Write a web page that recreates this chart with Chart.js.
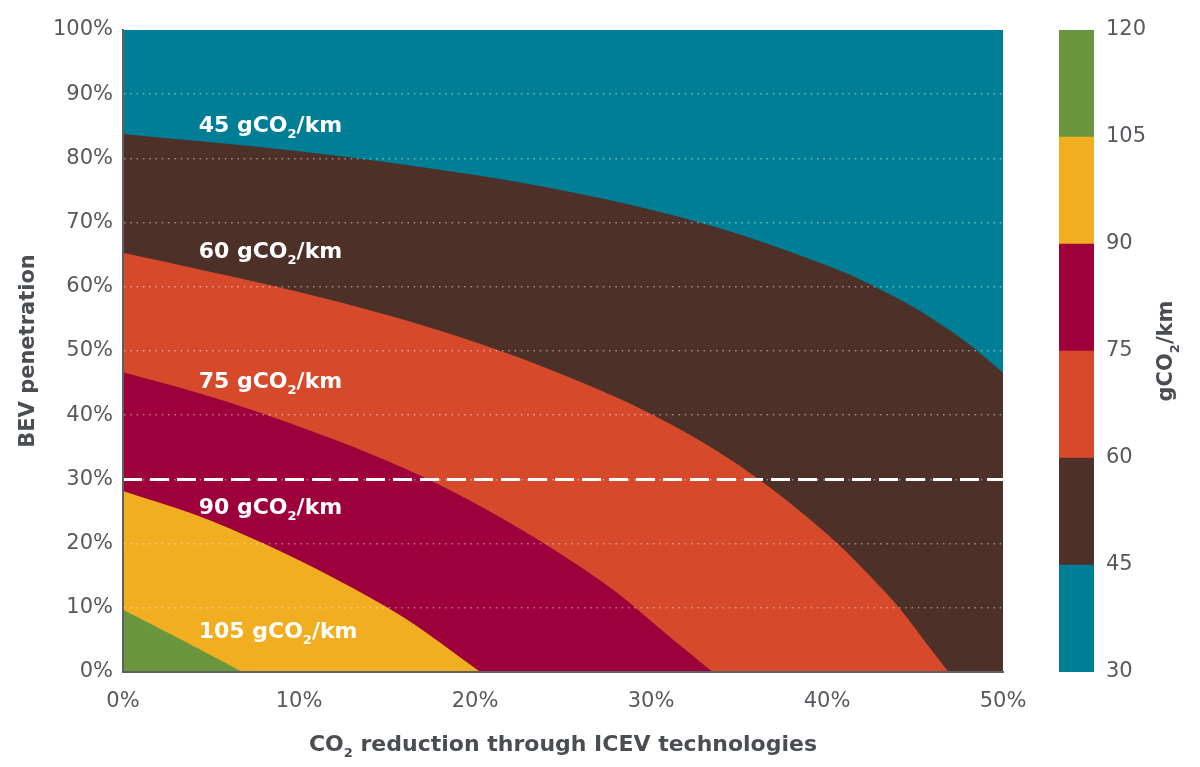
<!DOCTYPE html>
<html>
<head>
<meta charset="utf-8">
<script src="https://cdn.jsdelivr.net/npm/chart.js@4.4.1/dist/chart.umd.min.js"></script>
<style>
body{margin:0;background:#fff;}
#wrap{position:relative;width:1200px;height:767px;}
#main{position:absolute;left:0;top:0;}
#bar{position:absolute;left:1040px;top:0;}
</style>
</head>
<body>
<div id="wrap">
<canvas id="main" width="1044" height="767"></canvas>
<canvas id="bar" width="160" height="767"></canvas>
</div>
<script>
// contour edges (x = CO2 reduction %, y = BEV penetration %)
const edge45x = [0, 5, 10, 15, 20, 25, 30, 35, 40, 42, 44, 46, 48, 50];
const edge45y = [83.8, 82.5, 81.1, 79.4, 77.4, 75.0, 72.0, 68.2, 63.3, 61.0, 58.2, 55.0, 51.2, 46.6];
const edge60x = [0, 5, 10, 15, 20, 25, 30, 35, 40, 42, 44, 45.5, 46.9];
const edge60y = [65.3, 62.3, 59.2, 55.6, 51.4, 46.3, 40.2, 32.2, 21.5, 16.2, 10.3, 5, 0];
const edge75x = [0, 4, 8, 12, 16, 20, 24, 28, 31, 33.5];
const edge75y = [46.7, 43.7, 40.2, 36.2, 31.7, 26.3, 19.9, 12.5, 5.6, 0];
const edge90x = [0, 4, 8, 12, 16, 20.3];
const edge90y = [28.2, 24.6, 20.0, 14.6, 8.4, 0];
const edge105x = [0, 3.4, 6.8];
const edge105y = [9.7, 4.9, 0];

const bandEdges = [30, 45, 60, 75, 90, 105, 120];
const bandColors = ['#007e95', '#4d3028', '#d64a2b', '#9d003b', '#f0ae20', '#6a963d'];

const contourLabels = ['45', '60', '75', '90', '105'];
const labelY = [85, 65.4, 45.2, 25.5, 6.2];
const labelX = 4.3;
const targetShare = 30;

const FONT = '"DejaVu Sans", sans-serif';
const grey = '#56595d';
const titleGrey = '#4a4e53';

function pts(xs, ys) {
    return xs.map((x, i) => ({x: x, y: ys[i]}));
}

function drawSub(ctx, x, y, parts, size, weight, color, align) {
    ctx.save();
    ctx.fillStyle = color;
    ctx.textBaseline = 'middle';
    ctx.textAlign = 'left';
    const big = weight + ' ' + size + 'px ' + FONT;
    const small = weight + ' ' + Math.round(size * 0.6) + 'px ' + FONT;
    let w = 0;
    parts.forEach(p => { ctx.font = p.sub ? small : big; w += ctx.measureText(p.t).width; });
    let cx = align === 'center' ? x - w / 2 : x;
    parts.forEach(p => {
        ctx.font = p.sub ? small : big;
        ctx.fillText(p.t, cx, p.sub ? y + size * 0.4 : y);
        cx += ctx.measureText(p.t).width;
    });
    ctx.restore();
}

function band(data, color) {
    return {data: data, backgroundColor: color, borderColor: color, borderWidth: 0,
        fill: 'origin', pointRadius: 0, cubicInterpolationMode: 'monotone'};
}

const textPlugin = {
    id: 'texts',
    afterDraw(chart) {
        const ctx = chart.ctx, xs = chart.scales.x, ys = chart.scales.y;
        contourLabels.forEach((l, i) => {
            drawSub(ctx, xs.getPixelForValue(labelX), ys.getPixelForValue(labelY[i]),
                [{t: l + ' gCO'}, {t: '2', sub: true}, {t: '/km'}], 22, 'bold', '#fff', 'left');
        });
        const area = chart.chartArea;
        drawSub(ctx, (area.left + area.right) / 2, 745,
            [{t: 'CO'}, {t: '2', sub: true}, {t: ' reduction through ICEV technologies'}], 22, 'bold', titleGrey, 'center');
        ctx.save();
        ctx.translate(29, (area.top + area.bottom) / 2);
        ctx.rotate(-Math.PI / 2);
        drawSub(ctx, 0, 0, [{t: 'BEV penetration'}], 21, 'bold', titleGrey, 'center');
        ctx.restore();
    }
};

new Chart(document.getElementById('main'), {
    type: 'line',
    data: {
        datasets: [
            {data: [{x: 0, y: targetShare}, {x: 50, y: targetShare}], borderColor: '#ffffff',
                borderWidth: 3, borderDash: [19, 8], pointRadius: 0, fill: false},
            band(pts(edge105x, edge105y), bandColors[5]),
            band(pts(edge90x, edge90y), bandColors[4]),
            band(pts(edge75x, edge75y), bandColors[3]),
            band(pts(edge60x, edge60y), bandColors[2]),
            band(pts(edge45x, edge45y), bandColors[1]),
            band([{x: 0, y: 100}, {x: 50, y: 100}], bandColors[0])
        ]
    },
    options: {
        responsive: false,
        animation: false,
        layout: {padding: {left: 0, right: 41, top: 30, bottom: 0}},
        plugins: {legend: {display: false}, tooltip: {enabled: false}},
        scales: {
            x: {
                type: 'linear', min: 0, max: 50, z: 1,
                ticks: {stepSize: 10, callback: v => v + '%', color: grey, font: {family: FONT, size: 21}, padding: 17},
                grid: {display: false, drawTicks: false},
                border: {display: true, color: '#5f6062', width: 2, z: 1},
                afterFit: s => { s.height = 95; }
            },
            y: {
                type: 'linear', min: 0, max: 100, z: 1,
                ticks: {stepSize: 10, callback: v => v + '%', color: grey, font: {family: FONT, size: 21}, padding: 10},
                grid: {
                    color: c => (c.tick && c.tick.value > 0 && c.tick.value < 100) ? 'rgba(255,255,255,0.45)' : 'rgba(0,0,0,0)',
                    lineWidth: 1.5, drawTicks: false, z: 1
                },
                border: {display: true, color: '#5f6062', width: 2, dash: [1.5, 4.8], z: 1},
                afterFit: s => { s.width = 123; }
            }
        }
    },
    plugins: [textPlugin]
});

const barTitle = {
    id: 'barTitle',
    afterDraw(chart) {
        const ctx = chart.ctx, area = chart.chartArea;
        ctx.save();
        ctx.translate(127, (area.top + area.bottom) / 2);
        ctx.rotate(-Math.PI / 2);
        drawSub(ctx, 0, 0, [{t: 'gCO'}, {t: '2', sub: true}, {t: '/km'}], 21, 'bold', titleGrey, 'center');
        ctx.restore();
    }
};

new Chart(document.getElementById('bar'), {
    type: 'bar',
    data: {
        labels: [''],
        datasets: bandColors.map((c, i) => ({
            data: [[bandEdges[i], bandEdges[i + 1]]], backgroundColor: c, borderWidth: 0,
            barPercentage: 1, categoryPercentage: 1, grouped: false
        }))
    },
    options: {
        responsive: false,
        animation: false,
        layout: {padding: {left: 19, right: 0, top: 30, bottom: 95}},
        plugins: {legend: {display: false}, tooltip: {enabled: false}},
        scales: {
            x: {display: false},
            y: {
                position: 'right', min: 30, max: 120,
                ticks: {stepSize: 15, color: grey, font: {family: FONT, size: 21}, padding: 12},
                grid: {display: false, drawTicks: false},
                border: {display: false},
                afterFit: s => { s.width = 106; }
            }
        }
    },
    plugins: [barTitle]
});
</script>
</body>
</html>
